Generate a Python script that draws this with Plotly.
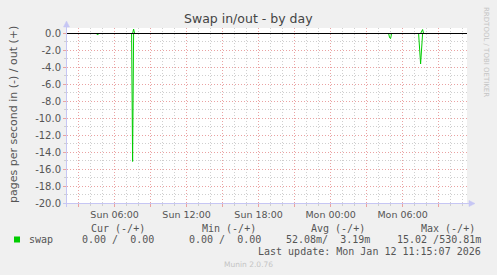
import plotly.graph_objects as go

# ---------------- data ----------------
# swap in (pages/s, drawn negative) and swap out (pages/s, drawn positive)
in_times = ["2026-01-11 02:02", "2026-01-11 04:30", "2026-01-11 04:35", "2026-01-11 04:40",
            "2026-01-11 07:25", "2026-01-11 07:30", "2026-01-11 07:35",
            "2026-01-12 04:50", "2026-01-12 04:55", "2026-01-12 05:00", "2026-01-12 05:05",
            "2026-01-12 07:20", "2026-01-12 07:30", "2026-01-12 07:40", "2026-01-12 11:15"]
in_values = [0, 0, 0.18, 0,
             0, 15.1, 0,
             0, 0.5, 0.6, 0,
             0, 3.6, 0, 0]

out_times = ["2026-01-11 02:02", "2026-01-11 07:30", "2026-01-11 07:35", "2026-01-11 07:40",
             "2026-01-12 07:30", "2026-01-12 07:40", "2026-01-12 07:45", "2026-01-12 11:15"]
out_values = [0, 0, 0.53, 0, 0, 0.47, 0, 0]

x_range = ["2026-01-11 02:02", "2026-01-12 11:22"]
x_tick_vals = ["2026-01-11 03:00", "2026-01-11 06:00", "2026-01-11 09:00", "2026-01-11 12:00",
               "2026-01-11 15:00", "2026-01-11 18:00", "2026-01-11 21:00", "2026-01-12 00:00",
               "2026-01-12 03:00", "2026-01-12 06:00", "2026-01-12 09:00"]
x_tick_text = ["", "Sun 06:00", "", "Sun 12:00", "", "Sun 18:00", "", "Mon 00:00", "", "Mon 06:00", ""]

y_range = [-20, 0.649]
y_tick_vals = [-20, -18, -16, -14, -12, -10, -8, -6, -4, -2, 0]
y_tick_text = ["-20.0", "-18.0", "-16.0", "-14.0", "-12.0", "-10.0", "-8.0", "-6.0", "-4.0", "-2.0", "0.0"]

series_name = "swap"
stat_headers = ["Cur (-/+)", "Min (-/+)", "Avg (-/+)", "Max (-/+)"]
stat_values = ["0.00 /  0.00", "0.00 /  0.00", "52.08m/  3.19m", "15.02 /530.81m"]
last_update = "Last update: Mon Jan 12 11:15:07 2026"

# ---------------- style ----------------
W, H = 497, 275
L, R, T, B = 67, 30, 28, 72
PW, PH = W - L - R, H - T - B
GREEN = "#00cc00"
RED_GRID = "#eaa2a2"
GREY_GRID = "#cfcfcf"
AXIS = "#c6c6f4"
TXT = "#555555"
SANS = "DejaVu Sans"
MONO = "DejaVu Sans Mono"


def px(xp):
    return (xp - L) / PW


def py(yp):
    return (H - B - yp) / PH


def nb(s):
    return s.replace(" ", "\u00a0")


fig = go.Figure()
fig.add_trace(go.Scatter(x=in_times, y=[-v for v in in_values], mode="lines",
                         line=dict(color=GREEN, width=1), name=series_name,
                         showlegend=False, hoverinfo="skip"))
fig.add_trace(go.Scatter(x=out_times, y=out_values, mode="lines",
                         line=dict(color=GREEN, width=1), name=series_name,
                         showlegend=False, hoverinfo="skip"))

shapes = [
    # zero rule on top
    dict(type="line", xref="paper", yref="y", x0=0, x1=1, y0=0, y1=0,
         line=dict(color="black", width=1.2), layer="above"),
    # axis lines with arrows
    dict(type="line", xref="paper", yref="paper", x0=px(66.5), x1=px(66.5), y0=py(207), y1=py(26),
         line=dict(color=AXIS, width=1), layer="above"),
    dict(type="line", xref="paper", yref="paper", x0=px(63), x1=px(470), y0=py(203.5), y1=py(203.5),
         line=dict(color=AXIS, width=1), layer="above"),
    dict(type="path", xref="paper", yref="paper",
         path=f"M {px(63.5)} {py(27)} L {px(66.5)} {py(21)} L {px(69.5)} {py(27)} Z",
         fillcolor=AXIS, line=dict(color=AXIS, width=0.5), layer="above"),
    dict(type="path", xref="paper", yref="paper",
         path=f"M {px(469)} {py(200.5)} L {px(475)} {py(203.5)} L {px(469)} {py(206.5)} Z",
         fillcolor=AXIS, line=dict(color=AXIS, width=0.5), layer="above"),
    # legend swatch
    dict(type="rect", xref="paper", yref="paper", x0=px(14), x1=px(20), y0=py(242.5), y1=py(236.5),
         fillcolor=GREEN, line=dict(width=0)),
]

annotations = [
    dict(text="Swap in/out - by day", x=px(248.5), y=py(18.5), xref="paper", yref="paper",
         showarrow=False, xanchor="center", yanchor="middle",
         font=dict(family=SANS, size=12.5, color="#444444")),
    dict(text="pages per second in (-) / out (+)", x=px(13), y=py(115), xref="paper", yref="paper",
         showarrow=False, xanchor="center", yanchor="middle", textangle=-90,
         font=dict(family=SANS, size=11, color=TXT)),
    dict(text="RRDTOOL / TOBI OETIKER", x=px(486), y=py(52), xref="paper", yref="paper",
         showarrow=False, xanchor="center", yanchor="middle", textangle=90,
         font=dict(family=SANS, size=7, color="#c4c4c4")),
    dict(text="Munin 2.0.76", x=px(248), y=py(264), xref="paper", yref="paper",
         showarrow=False, xanchor="center", yanchor="middle",
         font=dict(family=SANS, size=7.5, color="#c4c4c4")),
    dict(text=series_name, x=px(26.5), y=py(239.5), xref="paper", yref="paper",
         showarrow=False, xanchor="left", yanchor="middle",
         font=dict(family=MONO, size=10, color=TXT)),
    dict(text=nb(last_update), x=px(483), y=py(251.5), xref="paper", yref="paper",
         showarrow=False, xanchor="right", yanchor="middle",
         font=dict(family=MONO, size=10, color=TXT)),
]
header_right = [147, 257.5, 366.5, 476.5]
value_right = [156, 262.5, 372, 483]
for h, hx in zip(stat_headers, header_right):
    annotations.append(dict(text=nb(h), x=px(hx), y=py(228), xref="paper", yref="paper",
                            showarrow=False, xanchor="right", yanchor="middle",
                            font=dict(family=MONO, size=10, color=TXT)))
for v, vx in zip(stat_values, value_right):
    annotations.append(dict(text=nb(v), x=px(vx), y=py(239.5), xref="paper", yref="paper",
                            showarrow=False, xanchor="right", yanchor="middle",
                            font=dict(family=MONO, size=10, color=TXT)))

fig.update_layout(
    width=W, height=H,
    margin=dict(l=L, r=R, t=T, b=B, pad=0),
    paper_bgcolor="#f0f0f0", plot_bgcolor="white",
    showlegend=False,
    shapes=shapes, annotations=annotations,
    xaxis=dict(type="date", range=x_range, tickvals=x_tick_vals, ticktext=x_tick_text,
               showgrid=True, gridcolor=RED_GRID, griddash="1px,2px", gridwidth=1,
               ticks="outside", ticklen=3, tickcolor=RED_GRID, tickwidth=1,
               showline=False, zeroline=False,
               tickfont=dict(family=SANS, size=9.5, color=TXT),
               minor=dict(dtick=3600000, tick0="2026-01-11 00:00", showgrid=True,
                          gridcolor=GREY_GRID, griddash="1px,2px", gridwidth=1,
                          ticks="outside", ticklen=2, tickcolor=GREY_GRID)),
    yaxis=dict(range=y_range, tickvals=y_tick_vals, ticktext=y_tick_text,
               showgrid=True, gridcolor=RED_GRID, griddash="1px,2px", gridwidth=1,
               ticks="outside", ticklen=3, tickcolor=RED_GRID, tickwidth=1,
               showline=False, zeroline=False,
               tickfont=dict(family=SANS, size=10, color=TXT),
               minor=dict(dtick=1, tick0=0, showgrid=True,
                          gridcolor=GREY_GRID, griddash="1px,2px", gridwidth=1,
                          ticks="outside", ticklen=2, tickcolor=GREY_GRID)),
)

fig.write_html("out.html")
